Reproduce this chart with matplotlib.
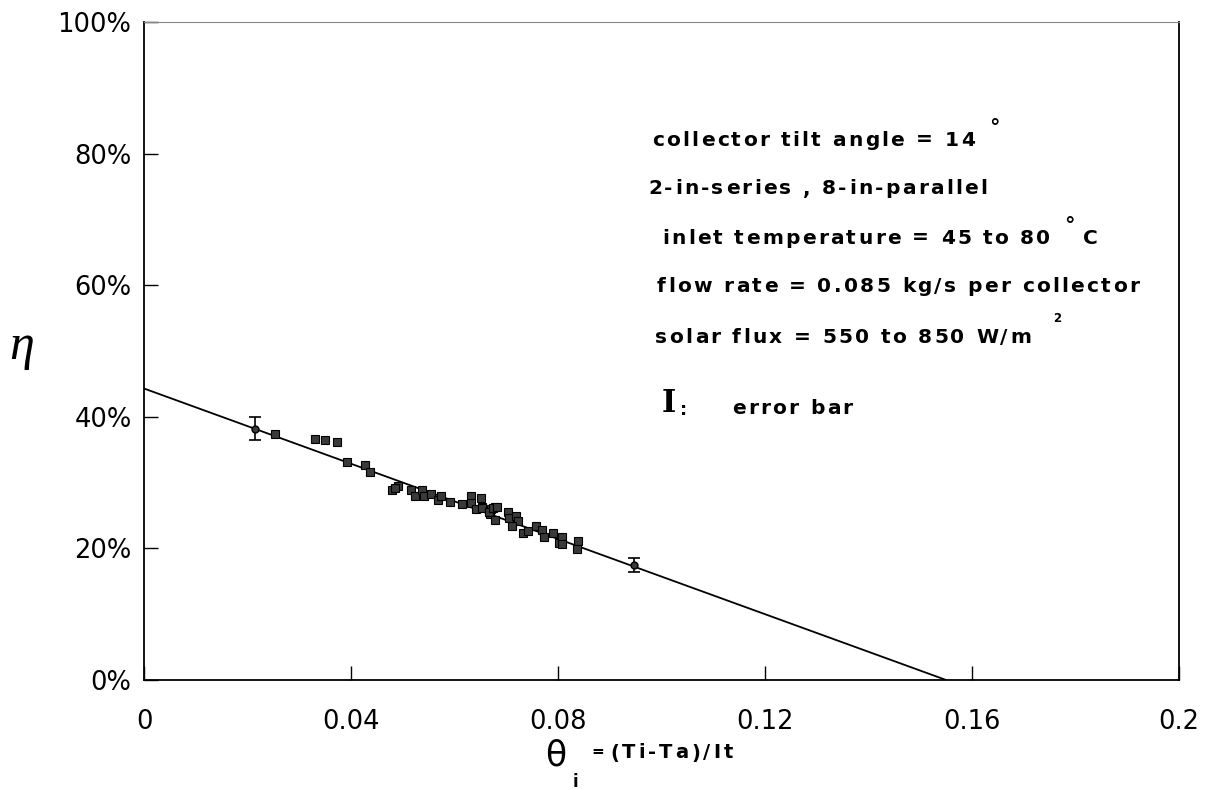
import matplotlib
matplotlib.use('Agg')
import matplotlib.pyplot as plt
from matplotlib.font_manager import FontProperties
from matplotlib.textpath import TextToPath

plt.rcParams['font.family'] = ['DejaVu Sans']

# measured points (theta_i, efficiency %)
theta = [0.0253, 0.0331, 0.0349, 0.0372, 0.0392, 0.0427, 0.0437, 0.0479, 0.0491,
         0.0485, 0.0516, 0.0524, 0.0537, 0.0542, 0.0555, 0.0569, 0.0574, 0.0591,
         0.0614, 0.0632, 0.0631, 0.0641, 0.0651, 0.0654, 0.0670, 0.0679, 0.0669,
         0.0653, 0.0667, 0.0675, 0.0682, 0.0679, 0.0703, 0.0706, 0.0718, 0.0722,
         0.0712, 0.0733, 0.0742, 0.0758, 0.0769, 0.0772, 0.0791, 0.0801, 0.0807,
         0.0807, 0.0838, 0.0836]
eta = [37.4, 36.7, 36.4, 36.1, 33.2, 32.6, 31.6, 28.9, 29.5,
       29.2, 28.8, 28.0, 28.9, 27.9, 28.3, 27.4, 27.9, 27.1,
       26.8, 27.9, 26.9, 26.0, 27.7, 26.3, 26.0, 26.3, 25.3,
       26.1, 25.6, 26.1, 26.3, 24.3, 25.5, 24.6, 24.9, 24.2,
       23.4, 22.3, 22.7, 23.4, 22.8, 21.7, 22.4, 20.8, 21.8,
       20.7, 21.2, 19.9]

# points with error bars
err_theta = [0.0215, 0.0946]
err_eta = [38.2, 17.5]
err_size = [1.8, 1.1]

# fitted line end points
fit_theta = [0.0, 0.155]
fit_eta = [44.3, 0.0]

x_ticks = [0, 0.04, 0.08, 0.12, 0.16, 0.2]
x_labels = ['0', '0.04', '0.08', '0.12', '0.16', '0.2']
y_ticks = [0, 20, 40, 60, 80, 100]
y_labels = ['0%', '20%', '40%', '60%', '80%', '100%']

notes = ['collector tilt angle = 14',
         '2-in-series , 8-in-parallel',
         'inlet temperature = 45 to 80',
         'flow rate = 0.085 kg/s per collector',
         'solar flux = 550 to 850 W/m']
# superscript after each note line, and trailing text
note_sup = ['°', '', '°', '', '2']
note_tail = ['', '', 'C', '', '']

W, H = 1207, 790
t2p = TextToPath()


def char_width(c, prop):
    # advance width in pixels (dpi 100), spaces included
    w1 = t2p.get_text_width_height_descent('|' + c + '|', prop, ismath=False)[0]
    w0 = t2p.get_text_width_height_descent('||', prop, ismath=False)[0]
    return (w1 - w0) * 100 / 72


def tracked(fig, x, y, s, size=14.5, track=2.3, weight='bold'):
    prop = FontProperties(family='DejaVu Sans', size=size, weight=weight)
    for c in s:
        if c != ' ':
            fig.text(x / W, 1 - y / H, c, fontproperties=prop, va='center', ha='left')
        x += char_width(c, prop) + track
    return x - track


def main():
    fig = plt.figure(figsize=(W / 100, H / 100), dpi=100)
    ax = fig.add_axes([144 / W, 1 - 680 / H, (1179 - 144) / W, (680 - 22) / H])

    ax.plot(fit_theta, fit_eta, color='black', lw=1.3, zorder=2)
    ax.plot(theta, eta, 's', ms=6, mfc='#3a3a3a', mec='black', mew=0.8, zorder=3)
    ax.errorbar(err_theta, err_eta, yerr=err_size, fmt='o', ms=5, mfc='#3a3a3a',
                mec='black', ecolor='black', elinewidth=1.2, capsize=4, capthick=1.2,
                zorder=4)

    ax.set_xlim(0, 0.2)
    ax.set_ylim(0, 100)
    ax.set_xticks(x_ticks)
    ax.set_xticklabels(x_labels)
    ax.set_yticks(y_ticks)
    ax.set_yticklabels(y_labels)
    ax.tick_params(direction='in', length=10, width=1, labelsize=18.5)
    ax.tick_params(axis='x', pad=21)
    ax.tick_params(axis='y', pad=9)
    for s in ['left', 'bottom', 'right']:
        ax.spines[s].set_linewidth(1.3)
    ax.spines['top'].set_linewidth(0.8)
    ax.spines['top'].set_color('#888888')

    # annotation block
    ys = [140, 189, 238, 287, 337]
    xs = [652, 648, 662, 657, 655]
    for t, x, y, sup, tail in zip(notes, xs, ys, note_sup, note_tail):
        x1 = tracked(fig, x, y, t)
        if sup == '°':
            fig.text((x1 + 14) / W, 1 - (y - 12) / H, sup, fontsize=15,
                     weight='bold', va='center', ha='left')
        elif sup:
            fig.text((x1 + 22) / W, 1 - (y - 18) / H, sup, fontsize=8.5,
                     weight='bold', va='center', ha='left')
        if tail:
            tracked(fig, x1 + 33, y, tail)
    fig.text(669 / W, 1 - 404 / H, 'I', fontsize=22, weight='bold', va='center',
             ha='center', family='DejaVu Serif')
    fig.text(680 / W, 1 - 410 / H, ':', fontsize=13, weight='bold', va='center')
    tracked(fig, 732, 408, 'error bar')

    # axis labels
    fig.text(22 / W, 1 - 347 / H, 'η', fontsize=36, va='center', ha='center',
             family='Liberation Serif', style='italic')
    fig.text(556 / W, 1 - 756 / H, 'θ', fontsize=25, va='center', ha='center')
    fig.text(575 / W, 1 - 782 / H, 'i', fontsize=12, weight='bold',
             va='center', ha='center')
    fig.text(591 / W, 1 - 752 / H, '=', fontsize=11, weight='bold',
             va='center', ha='left')
    tracked(fig, 610, 753, '(Ti-Ta)/It', size=14, track=3)

    fig.savefig('out.png', dpi=100)


if __name__ == "__main__":
    main()
